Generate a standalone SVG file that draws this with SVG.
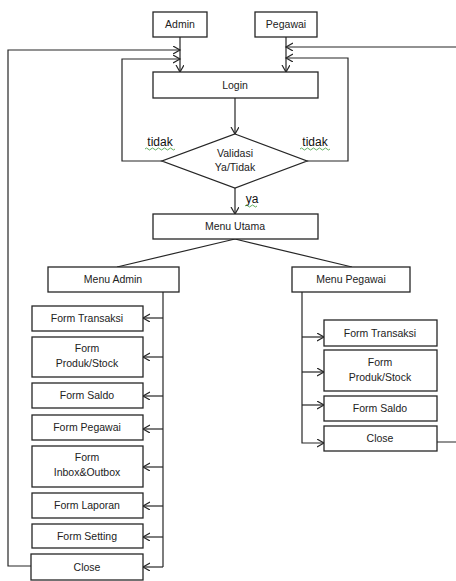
<svg xmlns="http://www.w3.org/2000/svg" width="456" height="581" viewBox="0 0 456 581">
<style>
.box{fill:#fff;stroke:#262626;stroke-width:1.3}
.t{font-family:"Liberation Sans",Arial,sans-serif;font-size:10.5px;fill:#222;text-anchor:middle}
.lbl{font-family:"Liberation Sans",Arial,sans-serif;font-size:12px;fill:#111;text-anchor:middle}
.c{fill:none;stroke:#262626;stroke-width:1.2}
.sq{fill:none;stroke:#3a9a3a;stroke-width:0.8}
</style>
<defs>
<marker id="ah" markerUnits="userSpaceOnUse" markerWidth="10" markerHeight="10" refX="7" refY="4" orient="auto">
<path d="M0,0 L7,4 L0,8" fill="none" stroke="#262626" stroke-width="1.2"/>
</marker>
</defs>
<rect width="456" height="581" fill="#fff"/>
<g id="connectors">
<path class="c" d="M180,37 V72" marker-end="url(#ah)"/>
<path class="c" d="M286,37 V72" marker-end="url(#ah)"/>
<path class="c" d="M31,566 H8 V50 H180" marker-end="url(#ah)"/>
<path class="c" d="M162,161 H122 V59 H180" marker-end="url(#ah)"/>
<path class="c" d="M437,442 H460 V47 H286" marker-end="url(#ah)"/>
<path class="c" d="M307,161 H348 V58 H286" marker-end="url(#ah)"/>
<path class="c" d="M235,98 V134" marker-end="url(#ah)"/>
<path class="c" d="M235,188 V214" marker-end="url(#ah)"/>
<path class="c" d="M235,239 L117,267"/>
<path class="c" d="M235,239 L352,267"/>
<path class="c" d="M163,292 V567"/>
<path class="c" d="M163,318 H143" marker-end="url(#ah)"/>
<path class="c" d="M163,357 H143" marker-end="url(#ah)"/>
<path class="c" d="M163,396 H143" marker-end="url(#ah)"/>
<path class="c" d="M163,429 H143" marker-end="url(#ah)"/>
<path class="c" d="M163,467 H143" marker-end="url(#ah)"/>
<path class="c" d="M163,506 H143" marker-end="url(#ah)"/>
<path class="c" d="M163,537 H143" marker-end="url(#ah)"/>
<path class="c" d="M163,567 H143" marker-end="url(#ah)"/>
<path class="c" d="M302,292 V443 H324" marker-end="url(#ah)"/>
<path class="c" d="M302,337 H324" marker-end="url(#ah)"/>
<path class="c" d="M302,372 H324" marker-end="url(#ah)"/>
<path class="c" d="M302,405 H324" marker-end="url(#ah)"/>
</g>
<g id="labels">
<text class="lbl" x="160" y="146">tidak</text>
<text class="lbl" x="315" y="146">tidak</text>
<text class="lbl" x="252" y="203">ya</text>
<path class="sq" d="M145,149 q1.5,-2 3,0 t3,0 t3,0 t3,0 t3,0 t3,0 t3,0 t3,0 t3,0 t3,0"/>
<path class="sq" d="M300,149 q1.5,-2 3,0 t3,0 t3,0 t3,0 t3,0 t3,0 t3,0 t3,0 t3,0 t3,0"/>
<path class="sq" d="M245,206 q1.5,-2 3,0 t3,0 t3,0 t3,0"/>
</g>
<g id="admin"><rect class="box" x="153" y="12" width="54" height="25"/><text class="t" x="180" y="28">Admin</text></g>
<g id="pegawai"><rect class="box" x="255" y="12" width="62" height="25"/><text class="t" x="286" y="28">Pegawai</text></g>
<g id="login"><rect class="box" x="153" y="72" width="165" height="26"/><text class="t" x="235" y="89">Login</text></g>
<g id="validasi"><polygon class="box" points="235,134 307,161 235,188 162,161"/><text class="t" x="235" y="157">Validasi</text><text class="t" x="235" y="171">Ya/Tidak</text></g>
<g id="menu-utama"><rect class="box" x="153" y="214" width="165" height="25"/><text class="t" x="235" y="230">Menu Utama</text></g>
<g id="menu-admin"><rect class="box" x="48" y="267" width="131" height="25"/><text class="t" x="113" y="283">Menu Admin</text></g>
<g id="menu-pegawai"><rect class="box" x="292" y="267" width="118" height="25"/><text class="t" x="351" y="283">Menu Pegawai</text></g>
<g id="a-transaksi"><rect class="box" x="32" y="306" width="111" height="25"/><text class="t" x="87" y="322">Form Transaksi</text></g>
<g id="a-produk"><rect class="box" x="32" y="337" width="111" height="40"/><text class="t" x="87" y="352">Form</text><text class="t" x="87" y="367">Produk/Stock</text></g>
<g id="a-saldo"><rect class="box" x="32" y="383" width="111" height="25"/><text class="t" x="87" y="399">Form Saldo</text></g>
<g id="a-pegawai"><rect class="box" x="32" y="415" width="111" height="25"/><text class="t" x="87" y="431">Form Pegawai</text></g>
<g id="a-inbox"><rect class="box" x="32" y="446" width="111" height="41"/><text class="t" x="87" y="461">Form</text><text class="t" x="87" y="476">Inbox&amp;Outbox</text></g>
<g id="a-laporan"><rect class="box" x="32" y="493" width="111" height="25"/><text class="t" x="87" y="509">Form Laporan</text></g>
<g id="a-setting"><rect class="box" x="32" y="524" width="111" height="24"/><text class="t" x="87" y="540">Form Setting</text></g>
<g id="a-close"><rect class="box" x="31" y="554" width="112" height="26"/><text class="t" x="87" y="571">Close</text></g>
<g id="p-transaksi"><rect class="box" x="324" y="320" width="113" height="26"/><text class="t" x="380" y="337">Form Transaksi</text></g>
<g id="p-produk"><rect class="box" x="324" y="350" width="113" height="41"/><text class="t" x="380" y="366">Form</text><text class="t" x="380" y="381">Produk/Stock</text></g>
<g id="p-saldo"><rect class="box" x="324" y="396" width="113" height="25"/><text class="t" x="380" y="412">Form Saldo</text></g>
<g id="p-close"><rect class="box" x="324" y="426" width="113" height="25"/><text class="t" x="380" y="442">Close</text></g>
</svg>
